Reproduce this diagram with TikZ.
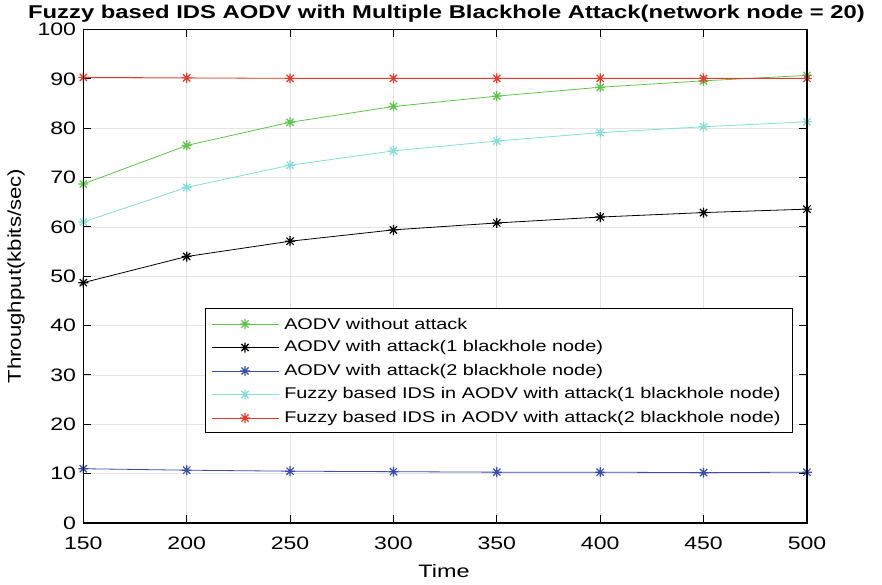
\documentclass[tikz,border=0pt]{standalone}
\usepackage{fontspec}
\setmainfont{Liberation Sans}
\definecolor{cgreen}{RGB}{96,196,76}
\definecolor{cblue}{RGB}{58,78,168}
\definecolor{ccyan}{RGB}{132,222,214}
\definecolor{cred}{RGB}{232,58,42}
\definecolor{cgrid}{RGB}{228,228,228}
\pgfdeclareplotmark{ast}{%
  \pgfpathmoveto{\pgfqpoint{0pt}{\pgfplotmarksize}}\pgfpathlineto{\pgfqpoint{0pt}{-\pgfplotmarksize}}%
  \pgfpathmoveto{\pgfqpoint{\pgfplotmarksize}{0pt}}\pgfpathlineto{\pgfqpoint{-\pgfplotmarksize}{0pt}}%
  \pgfpathmoveto{\pgfqpoint{0.72\pgfplotmarksize}{0.72\pgfplotmarksize}}\pgfpathlineto{\pgfqpoint{-0.72\pgfplotmarksize}{-0.72\pgfplotmarksize}}%
  \pgfpathmoveto{\pgfqpoint{0.72\pgfplotmarksize}{-0.72\pgfplotmarksize}}\pgfpathlineto{\pgfqpoint{-0.72\pgfplotmarksize}{0.72\pgfplotmarksize}}%
  \pgfusepathqstroke}
\tikzset{
  series/.style={line width=0.8pt, mark=ast, mark size=5pt, mark options={line width=1.2pt}},
  ticklab/.style={font=\fontsize{18}{18}\selectfont, inner sep=0pt, xscale=1.28},
  leglab/.style={font=\fontsize{15.5}{15.5}\selectfont, anchor=west, inner sep=0pt, xscale=1.28},
}
\begin{document}
\begin{tikzpicture}[x=1pt,y=-1pt]
\useasboundingbox[fill=white] (0,0) rectangle (882,585);
\node[font=\bfseries\fontsize{18.5}{18.5}\selectfont, inner sep=0pt, xscale=1.287] (title) at (446.5,14) {Fuzzy based IDS AODV with Multiple Blackhole Attack(network node = 20)};
\node[font=\fontsize{18}{18}\selectfont, inner sep=0pt, xscale=1.3] (xlab) at (444,571) {Time};
\node[font=\fontsize{18.5}{18.5}\selectfont, inner sep=0pt, rotate=90, xscale=1.2] (ylab) at (16,276) {Throughput(kbits/sec)};
\begin{scope}[shift={(-226.84,523)}, x=2.0676pt, y=4.935pt]
  % grid
  \foreach \v in {200,250,...,450} \draw[cgrid, line width=0.8pt] (\v,0) -- (\v,100);
  \foreach \w in {10,20,...,90} \draw[cgrid, line width=0.8pt] (150,\w) -- (500,\w);
  % ticks
  \foreach \v in {150,200,...,500} {
    \draw[line width=1pt] (\v,0) -- ++(0pt,8pt);
    \draw[line width=1pt] (\v,100) -- ++(0pt,-8pt);
    \node[ticklab, anchor=north] (xt\v) at ([yshift=-14pt]\v,0) {\v};
  }
  \foreach \w in {0,10,...,100} {
    \draw[line width=1pt] (150,\w) -- ++(8pt,0pt);
    \draw[line width=1pt] (500,\w) -- ++(-8pt,0pt);
    \node[ticklab, anchor=east] (yt\w) at ([xshift=-7pt]150,\w) {\w};
  }
  % data
  \draw[series, cblue] plot coordinates {(150,11.0) (200,10.7) (250,10.5) (300,10.4) (350,10.3) (400,10.3) (450,10.2) (500,10.3)};
  \draw[series, black] plot coordinates {(150,48.7) (200,54.0) (250,57.1) (300,59.4) (350,60.8) (400,62.0) (450,62.9) (500,63.6)};
  \draw[series, ccyan] plot coordinates {(150,61.0) (200,68.0) (250,72.5) (300,75.4) (350,77.4) (400,79.1) (450,80.3) (500,81.3)};
  \draw[series, cgreen] plot coordinates {(150,68.7) (200,76.5) (250,81.2) (300,84.4) (350,86.5) (400,88.3) (450,89.6) (500,90.7)};
  \draw[series, cred] plot coordinates {(150,90.3) (200,90.2) (250,90.1) (300,90.1) (350,90.1) (400,90.1) (450,90.1) (500,90.1)};
  % axis box
  \draw[line width=1.6pt] (150,0) rectangle (500,100);
\end{scope}
% legend
\draw[fill=white, line width=0.9pt] (205,308) rectangle (792,432);
\foreach \yy/\cc/\tt [count=\i] in {324/cgreen/AODV without attack, 347.5/black/AODV with attack(1 blackhole node), 371/cblue/AODV with attack(2 blackhole node), 394.5/ccyan/Fuzzy based IDS in AODV with attack(1 blackhole node), 418/cred/Fuzzy based IDS in AODV with attack(2 blackhole node)} {
  \draw[\cc, line width=0.8pt] (212,\yy) -- (279,\yy);
  \draw[series, \cc] plot coordinates {(245,\yy)};
  \node[leglab] (leg\i) at (284,\yy) {\tt};
}
\end{tikzpicture}
\end{document}
